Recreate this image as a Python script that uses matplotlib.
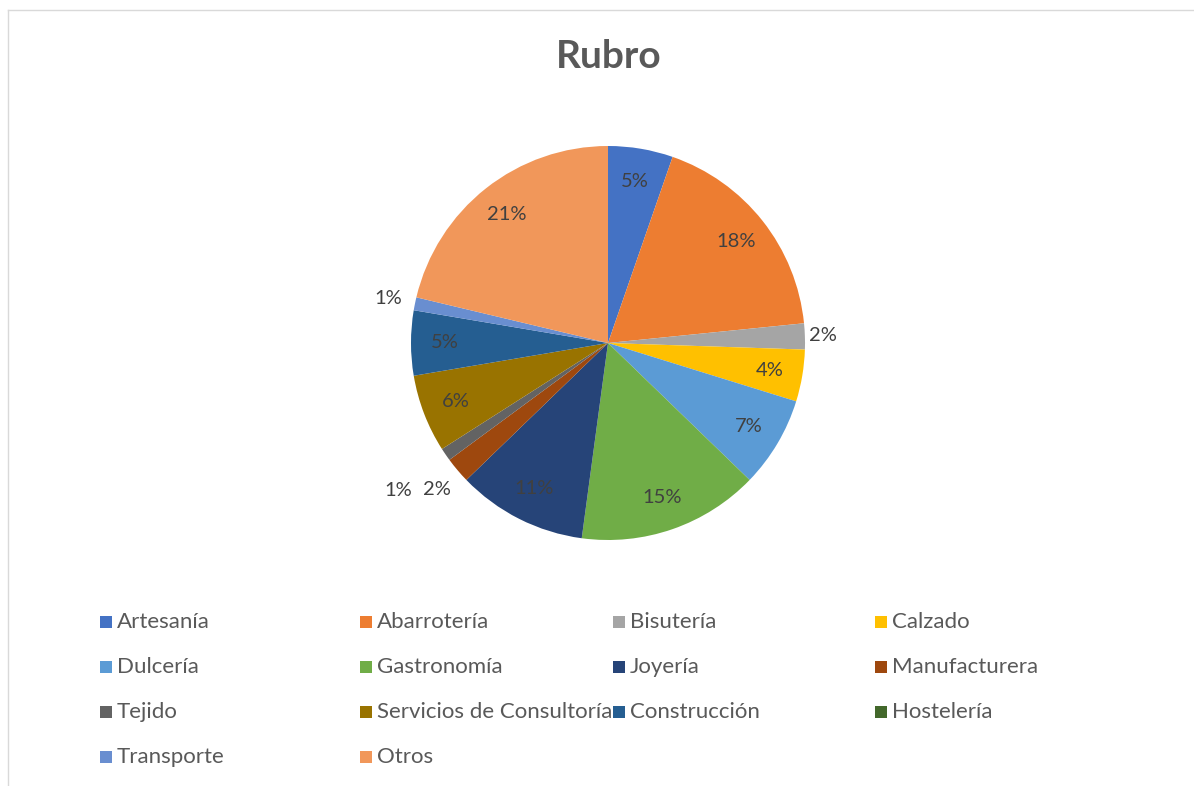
import matplotlib
matplotlib.use("Agg")
import matplotlib.pyplot as plt
from matplotlib.patches import Rectangle
from matplotlib.lines import Line2D
import numpy as np

categories = ["Artesanía", "Abarrotería", "Bisutería", "Calzado", "Dulcería",
              "Gastronomía", "Joyería", "Manufacturera", "Tejido",
              "Servicios de Consultoría", "Construcción", "Hostelería",
              "Transporte", "Otros"]
counts = [5, 17, 2, 4, 7, 14, 10, 2, 1, 6, 5, 0, 1, 20]
colors = ["#4472C4", "#ED7D31", "#A5A5A5", "#FFC000", "#5B9BD5", "#70AD47",
          "#264478", "#9E480E", "#636363", "#997300", "#255E91", "#43682B",
          "#698ED0", "#F1975A"]

W, H = 1194, 786
fig = plt.figure(figsize=(W / 100, H / 100), dpi=100)
font = "Lato"
txt_col = "#404040"

# border lines
fig.add_artist(Line2D([8 / W, 8 / W], [0, 1 - 10 / H], transform=fig.transFigure, color="#D9D9D9", lw=1))
fig.add_artist(Line2D([8 / W, 1], [1 - 10 / H, 1 - 10 / H], transform=fig.transFigure, color="#D9D9D9", lw=1))

fig.text(609 / W, 1 - 57 / H, "Rubro", ha="center", va="center",
         fontsize=28, fontweight="bold", color="#595959", family=font)

cx, cy, r = 608, 343, 197
ax = fig.add_axes([(cx - r) / W, 1 - (cy + r) / H, 2 * r / W, 2 * r / H])
wedges, _ = ax.pie(counts, colors=colors, startangle=90, counterclock=False,
                   wedgeprops=dict(linewidth=0))
ax.set_xlim(-1, 1)
ax.set_ylim(-1, 1)
ax.set_aspect("auto")
ax.axis("off")

total = sum(counts)
for w, cat, c in zip(wedges, categories, counts):
    if c == 0:
        continue
    pct = f"{round(100 * c / total):.0f}%"
    mid = np.deg2rad((w.theta1 + w.theta2) / 2)
    if cat == "Bisutería":
        x, y = 1.09 * np.cos(mid), 1.09 * np.sin(mid)
    elif cat == "Transporte":
        x, y = 1.14 * np.cos(mid), 1.14 * np.sin(mid)
    elif cat == "Manufacturera":
        x, y = 1.1 * np.cos(mid) - 0.03, 1.1 * np.sin(mid) - 0.034
    elif cat == "Tejido":
        x, y = 1.1 * np.cos(mid) - 0.156, 1.1 * np.sin(mid) - 0.127
    else:
        x, y = 0.83 * np.cos(mid), 0.83 * np.sin(mid)
    ax.text(x, y, pct, ha="center", va="center", fontsize=14.5,
            color=txt_col, family=font)

# legend
col_x = [100, 360, 613, 875]
row_y = [622, 667, 712, 757]
sq = 12
for i, (cat, col) in enumerate(zip(categories, colors)):
    rr, cc = divmod(i, 4)
    x0, y0 = col_x[cc], row_y[rr]
    fig.add_artist(Rectangle((x0 / W, 1 - (y0 + sq / 2) / H), sq / W, sq / H,
                             transform=fig.transFigure, facecolor=col, edgecolor="none"))
    fig.text((x0 + sq + 5) / W, 1 - y0 / H, cat, ha="left", va="center",
             fontsize=16, color="#595959", family=font)

fig.savefig("out.png", dpi=100)
